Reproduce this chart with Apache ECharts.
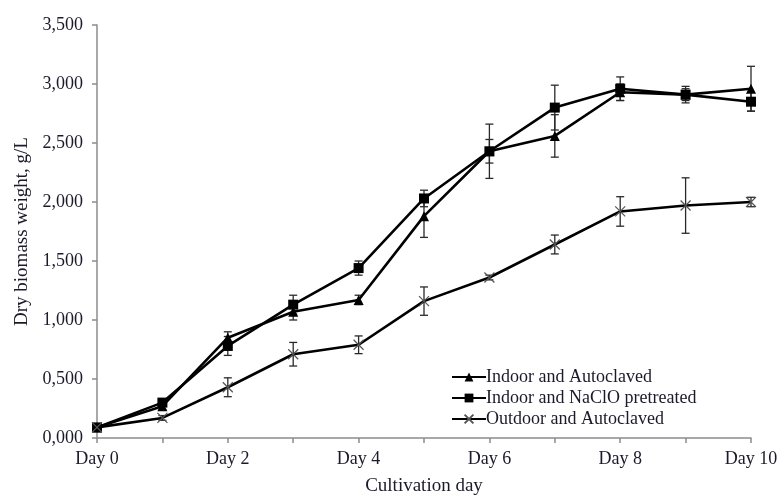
<!DOCTYPE html>
<html>
<head>
<meta charset="utf-8">
<script src="https://cdn.jsdelivr.net/npm/echarts@6/dist/echarts.min.js"></script>
<style>
  html, body { margin: 0; padding: 0; background: #fff; }
  #chart { width: 777px; height: 496px; }
</style>
</head>
<body>
<div id="chart"></div>
<script>
var days = ['Day 0', 'Day 1', 'Day 2', 'Day 3', 'Day 4', 'Day 5', 'Day 6', 'Day 7', 'Day 8', 'Day 9', 'Day 10'];

var indoorAuto    = [0.09, 0.27, 0.85, 1.07, 1.17, 1.88, 2.43, 2.56, 2.93, 2.91, 2.96];
var indoorAutoErr = [0.01, 0.03, 0.05, 0.07, 0.04, 0.18, 0.10, 0.18, 0.07, 0.05, 0.19];

var indoorNaClO    = [0.09, 0.30, 0.78, 1.13, 1.44, 2.03, 2.43, 2.80, 2.96, 2.91, 2.85];
var indoorNaClOErr = [0.01, 0.03, 0.08, 0.08, 0.06, 0.07, 0.23, 0.19, 0.10, 0.07, 0.08];

var outdoorAuto    = [0.09, 0.17, 0.43, 0.71, 0.79, 1.16, 1.36, 1.64, 1.92, 1.97, 2.00];
var outdoorAutoErr = [0.01, 0.02, 0.08, 0.10, 0.075, 0.12, 0.02, 0.08, 0.125, 0.235, 0.04];

var names = ['Indoor and Autoclaved', 'Indoor and NaClO pretreated', 'Outdoor and Autoclaved'];

var font = 'Liberation Serif';
var textColor = '#1a1a2a';
var axisColor = '#8c8c8c';

function errData(vals, errs) {
    return vals.map(function (v, i) { return [i, v - errs[i], v + errs[i]]; });
}

function errSeries(vals, errs) {
    return {
        type: 'custom',
        data: errData(vals, errs),
        encode: { x: 0, y: [1, 2] },
        z: 1,
        silent: true,
        renderItem: function (params, api) {
            var lo = api.coord([api.value(0), api.value(1)]);
            var hi = api.coord([api.value(0), api.value(2)]);
            var w = 4;
            var st = { stroke: '#2a2a2a', lineWidth: 1.3 };
            return {
                type: 'group',
                children: [
                    { type: 'line', shape: { x1: lo[0], y1: lo[1], x2: hi[0], y2: hi[1] }, style: st },
                    { type: 'line', shape: { x1: lo[0] - w, y1: lo[1], x2: lo[0] + w, y2: lo[1] }, style: st },
                    { type: 'line', shape: { x1: hi[0] - w, y1: hi[1], x2: hi[0] + w, y2: hi[1] }, style: st }
                ]
            };
        }
    };
}

var chart = echarts.init(document.getElementById('chart'));

chart.setOption({
    animation: false,
    backgroundColor: '#fff',
    textStyle: { fontFamily: font },
    grid: { left: 97, right: 26, top: 25, bottom: 58, outerBoundsMode: 'none', containLabel: false },
    legend: {
        data: names,
        orient: 'vertical',
        left: 446,
        top: 363,
        itemWidth: 34,
        itemHeight: 11,
        itemGap: 3,
        textStyle: { fontFamily: font, fontSize: 18, color: textColor, padding: [0, 0, 0, -5] }
    },
    xAxis: {
        type: 'category',
        data: days,
        boundaryGap: false,
        name: 'Cultivation day',
        nameLocation: 'middle',
        nameGap: 39,
        nameTextStyle: { fontFamily: font, fontSize: 19, color: textColor },
        axisLine: { lineStyle: { color: axisColor, width: 1.5 } },
        axisTick: { show: true, interval: 0, length: 5, lineStyle: { color: axisColor, width: 1.5 } },
        axisLabel: { interval: 1, margin: 12, fontFamily: font, fontSize: 18, color: textColor },
        splitLine: { show: false }
    },
    yAxis: {
        type: 'value',
        min: 0,
        max: 3.5,
        interval: 0.5,
        name: 'Dry biomass weight, g/L',
        nameLocation: 'middle',
        nameGap: 65,
        nameTextStyle: { fontFamily: font, fontSize: 19, color: textColor },
        axisLine: { show: true, lineStyle: { color: axisColor, width: 1.5 } },
        axisTick: { show: true, length: 5, lineStyle: { color: axisColor, width: 1.5 } },
        axisLabel: {
            margin: 14,
            fontFamily: font,
            fontSize: 18,
            color: textColor,
            formatter: function (v) { return v.toFixed(3).replace('.', ','); }
        },
        splitLine: { show: false }
    },
    series: [
        errSeries(indoorAuto, indoorAutoErr),
        errSeries(indoorNaClO, indoorNaClOErr),
        errSeries(outdoorAuto, outdoorAutoErr),
        {
            name: names[0],
            type: 'line',
            data: indoorAuto,
            z: 3,
            symbol: 'triangle',
            symbolSize: 10,
            showAllSymbol: true,
            lineStyle: { color: '#000', width: 2.6 },
            itemStyle: { color: '#000' }
        },
        {
            name: names[1],
            type: 'line',
            data: indoorNaClO,
            z: 3,
            symbol: 'rect',
            symbolSize: 10,
            showAllSymbol: true,
            lineStyle: { color: '#000', width: 2.6 },
            itemStyle: { color: '#000' }
        },
        {
            name: names[2],
            type: 'line',
            data: outdoorAuto,
            z: 3,
            symbol: 'path://M0,0 L10,10 M10,0 L0,10',
            symbolSize: 10,
            showAllSymbol: true,
            lineStyle: { color: '#000', width: 2.6 },
            itemStyle: { color: 'rgba(0,0,0,0)', borderColor: '#555', borderWidth: 1.2 }
        }
    ]
});
</script>
</body>
</html>
